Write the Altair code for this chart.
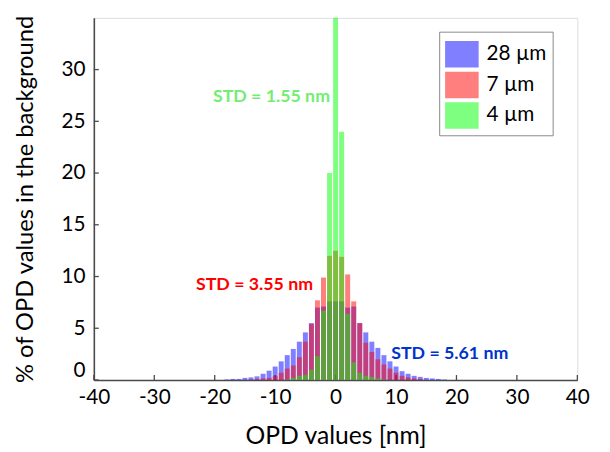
import altair as alt
import pandas as pd

# bin centres (nm) and bar heights (% of OPD values)
bins_blue = list(range(-18, 19))
vals_blue = [0.05, 0.1, 0.1, 0.2, 0.25, 0.35, 0.6, 0.9, 1.3, 1.8, 2.4, 3.0, 3.7, 4.6, 5.5, 7.0, 7.1, 7.6,
             7.6, 7.6, 7.0, 7.1, 5.5, 4.6, 3.7, 3.1, 2.4, 1.8, 1.3, 0.85, 0.6, 0.4, 0.3, 0.2, 0.15, 0.1, 0.05]

bins_red = list(range(-14, 15))
vals_red = [0.05, 0.1, 0.15, 0.2, 0.4, 0.7, 1.1, 1.4, 2.2, 3.7, 5.4, 7.7, 9.9, 12.0,
            12.5, 11.9, 10.2, 7.6, 5.5, 3.6, 2.7, 2.0, 1.5, 1.1, 0.7, 0.4, 0.25, 0.15, 0.1]

bins_green = list(range(-8, 9))
vals_green = [0.05, 0.2, 0.4, 0.5, 1.0, 2.3, 6.7, 20.0, 35.0, 24.0, 6.4, 1.7, 0.7, 0.4, 0.3, 0.15, 0.05]

series_names = ["28 µm", "7 µm", "4 µm"]
series_colors = ["#0000FF", "#FF0000", "#00FF00"]

x_ticks = [-40, -30, -20, -10, 0, 10, 20, 30, 40]
y_ticks = [0, 5, 10, 15, 20, 25, 30]

ann_text = ["STD = 1.55 nm", "STD = 3.55 nm", "STD = 5.61 nm"]
ann_x = [-20.3, -23.1, 9.2]
ann_y = [27.3, 9.15, 2.5]
ann_color = ["#72EE72", "#FF0000", "#0033CC"]

rows = []
for name, bins, vals in [(series_names[0], bins_blue, vals_blue),
                         (series_names[1], bins_red, vals_red),
                         (series_names[2], bins_green, vals_green)]:
    for b, v in zip(bins, vals):
        rows.append({"series": name, "x0": b - 0.41, "x1": b + 0.41, "v": v, "base": 0})
df = pd.DataFrame(rows)

W, H = 490, 367
FONT = "Lato"
AX = "#4a4a4a"

xs = alt.Scale(domain=[-40, 40], nice=False)
ys = alt.Scale(domain=[0, 35], nice=False)

xticks_layer = alt.Chart(pd.DataFrame({"t": x_ticks})).mark_rule(color=AX, strokeWidth=1.3).encode(
    x=alt.X("t:Q", scale=xs), y=alt.value(H), y2=alt.value(H - 5))
yticks_layer = alt.Chart(pd.DataFrame({"t": y_ticks})).mark_rule(color=AX, strokeWidth=1.3).encode(
    y=alt.Y("t:Q", scale=ys), x=alt.value(0), x2=alt.value(5))

bars = alt.Chart(df).mark_bar(opacity=0.5).encode(
    x=alt.X("x0:Q", scale=xs,
            axis=alt.Axis(values=x_ticks, title="OPD values [nm]", grid=False, ticks=False,
                          domainColor=AX, domainWidth=1.6, labelFontSize=21, labelFont=FONT,
                          labelColor="black", labelPadding=7, labelFlush=False,
                          labelExpr="'' + datum.value",
                          titleFont=FONT, titleFontSize=25,
                          titleFontWeight="normal", titleColor="black", titlePadding=16)),
    x2="x1:Q",
    y=alt.Y("v:Q", scale=ys,
            axis=alt.Axis(values=y_ticks, title="% of OPD values in the background", grid=False,
                          ticks=False, domainColor=AX, domainWidth=1.6, labelFontSize=21,
                          labelFont=FONT, labelColor="black", labelPadding=9, labelFlush=True,
                          titleFont=FONT, titleFontSize=24, titleFontWeight="normal",
                          titleColor="black", titlePadding=24)),
    y2="base:Q",
    color=alt.Color("series:N", scale=alt.Scale(domain=series_names, range=series_colors),
                    sort=series_names,
                    legend=alt.Legend(title=None, orient="none", legendX=350, legendY=14,
                                      symbolType="M-1,-0.79H1V0.79H-1Z", symbolSize=1156,
                                      symbolOpacity=0.5, symbolStrokeWidth=0,
                                      labelFont=FONT, labelFontSize=21, labelColor="black",
                                      labelOffset=8, rowPadding=0, padding=6,
                                      strokeColor="#888888", fillColor="white")),
)

ann = alt.Chart(pd.DataFrame({"t": ann_text, "x": ann_x, "y": ann_y, "c": ann_color})).mark_text(
    align="left", baseline="middle", font=FONT, fontWeight="bold", fontSize=18).encode(
    x=alt.X("x:Q", scale=xs), y=alt.Y("y:Q", scale=ys), text="t:N",
    color=alt.Color("c:N", scale=None))

chart = alt.layer(xticks_layer, yticks_layer, bars, ann).properties(
    width=W, height=H,
    autosize=alt.AutoSizeParams(type="none"),
    padding={"left": 87, "top": 7, "right": 25, "bottom": 70},
).configure_view(stroke=None).configure(background="white")

chart.save("out.html", embed_options={"renderer": "svg", "actions": False})
